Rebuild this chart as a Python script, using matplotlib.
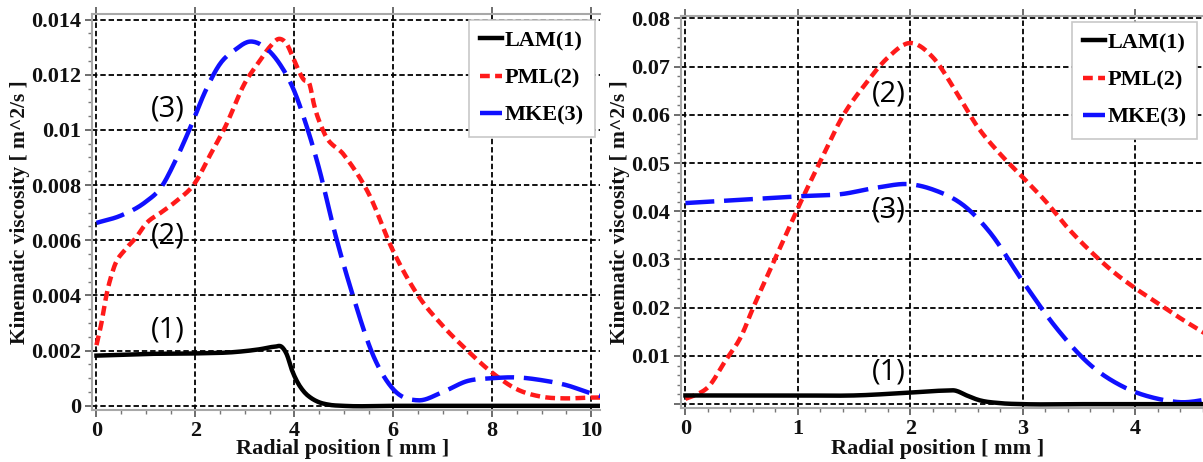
import numpy as np
import matplotlib
matplotlib.use('Agg')
import matplotlib.pyplot as plt
from matplotlib.ticker import MultipleLocator, AutoMinorLocator, FuncFormatter

# ---- left panel data (radial position in mm, viscosity in m^2/s)
x_lam_l = [0, 0.5, 1.0, 2.0, 2.8, 3.3, 3.6, 3.75, 3.85, 3.95, 4.05, 4.2, 4.35, 4.5, 4.7, 5.0, 6, 8, 10.3]
y_lam_l = [0.00182, 0.00185, 0.00188, 0.0019, 0.00195, 0.00205, 0.00214, 0.00213, 0.00185, 0.0013, 0.0009, 0.0005, 0.00027, 0.00013, 0.00004, 0.0, 0.0, 0.0, 0.0]

x_pml_l = [0, 0.1, 0.2, 0.35, 0.6, 0.8, 1.0, 1.3, 1.6, 2.0, 2.3, 2.6, 3.0, 3.3, 3.5, 3.7, 3.85, 4.0, 4.2, 4.3, 4.4, 4.6, 5.0, 5.5, 6.0, 6.5, 7.0, 7.5, 8.0, 8.5, 9.0, 9.5, 10.0, 10.3]
y_pml_l = [0.0022, 0.003, 0.004, 0.005, 0.0057, 0.0061, 0.0066, 0.007, 0.0074, 0.0081, 0.0091, 0.0101, 0.0117, 0.0125, 0.013, 0.0133, 0.0131, 0.0125, 0.0118, 0.0117, 0.0109, 0.0099, 0.0091, 0.0077, 0.0056, 0.004, 0.0029, 0.002, 0.0012, 0.0006, 0.00033, 0.00027, 0.0003, 0.0003]

x_mke_l = [0, 0.5, 1.0, 1.3, 1.6, 1.9, 2.2, 2.5, 2.8, 3.1, 3.4, 3.7, 4.0, 4.2, 4.5, 4.8, 5.2, 5.6, 6.0, 6.5, 7.0, 7.5, 8.0, 8.5, 9.0, 9.5, 10.0, 10.3]
y_mke_l = [0.00663, 0.0069, 0.0074, 0.0079, 0.0089, 0.0101, 0.0114, 0.0124, 0.0129, 0.0132, 0.013, 0.0124, 0.0114, 0.0104, 0.0086, 0.0064, 0.0039, 0.0018, 0.0006, 0.0002, 0.0005, 0.0009, 0.001, 0.00103, 0.00093, 0.00075, 0.00045, 0.0003]

# ---- right panel data
x_lam_r = [0, 0.5, 1.0, 1.5, 2.0, 2.3, 2.4, 2.5, 2.6, 2.8, 3.0, 3.5, 4.0, 4.7]
y_lam_r = [0.0018, 0.0018, 0.0018, 0.0018, 0.0024, 0.0028, 0.0028, 0.0018, 0.0009, 0.0002, 0.0, 0.0, 0.0, 0.0]

x_pml_r = [0, 0.1, 0.2, 0.35, 0.5, 0.6, 0.8, 1.0, 1.2, 1.4, 1.6, 1.8, 2.0, 2.2, 2.4, 2.6, 2.8, 3.0, 3.2, 3.4, 3.6, 3.8, 4.0, 4.2, 4.4, 4.7]
y_pml_r = [0.0011, 0.002, 0.0035, 0.0088, 0.0143, 0.0199, 0.0303, 0.0407, 0.0504, 0.0598, 0.0664, 0.0719, 0.0749, 0.0719, 0.065, 0.0574, 0.0518, 0.047, 0.0421, 0.0365, 0.0317, 0.0275, 0.024, 0.0209, 0.0178, 0.0135]

x_mke_r = [0, 0.5, 1.0, 1.4, 1.7, 2.0, 2.2, 2.5, 2.7, 3.0, 3.3, 3.6, 3.9, 4.2, 4.4, 4.7]
y_mke_r = [0.0417, 0.0424, 0.0431, 0.0436, 0.0449, 0.0456, 0.0445, 0.0407, 0.0358, 0.0254, 0.0157, 0.0081, 0.0035, 0.0011, 0.0004, 0.0012]

labels = ['LAM(1)', 'PML(2)', 'MKE(3)']
serif = 'Liberation Serif'


def smooth(xs, ys, n=400):
    # cubic hermite between the read points, just to get a smooth curve
    xs = np.asarray(xs, float)
    ys = np.asarray(ys, float)
    xx = np.linspace(xs[0], xs[-1], n)
    m = np.gradient(ys, xs)
    out = np.empty_like(xx)
    idx = np.clip(np.searchsorted(xs, xx) - 1, 0, len(xs) - 2)
    for k, (xv, i) in enumerate(zip(xx, idx)):
        h = xs[i + 1] - xs[i]
        t = (xv - xs[i]) / h
        h00 = 2 * t**3 - 3 * t**2 + 1
        h10 = t**3 - 2 * t**2 + t
        h01 = -2 * t**3 + 3 * t**2
        h11 = t**3 - t**2
        out[k] = h00 * ys[i] + h10 * h * m[i] + h01 * ys[i + 1] + h11 * h * m[i + 1]
    return xx, out


def style_axes(ax):
    for s in ax.spines.values():
        s.set_color('#a8a8a8')
        s.set_linewidth(1.5)
    ax.spines['right'].set_visible(False)
    ax.grid(True, which='major', color='black', linestyle=(0, (3, 1.6)), linewidth=1.3)
    ax.tick_params(which='major', direction='out', length=5, width=1.2, color='#555555',
                   labelsize=16, pad=3, top=True)
    ax.tick_params(which='minor', direction='out', length=3, width=1.0, color='#777777', top=False)
    for lab in ax.get_xticklabels() + ax.get_yticklabels():
        lab.set_fontfamily(serif)
        lab.set_fontweight('bold')
        lab.set_color('#111111')


def gfmt(v, pos):
    if abs(v) < 1e-12:
        return '0'
    return ('%g' % v)


fig = plt.figure(figsize=(12.03, 4.62), dpi=100)
axL = fig.add_axes([0.0765, 0.1126, 0.4223, 0.8571])
axR = fig.add_axes([0.5665, 0.1169, 0.4335, 0.8485])

for ax, data in [(axL, [(x_lam_l, y_lam_l), (x_pml_l, y_pml_l), (x_mke_l, y_mke_l)]),
                 (axR, [(x_lam_r, y_lam_r), (x_pml_r, y_pml_r), (x_mke_r, y_mke_r)])]:
    (xa, ya), (xb, yb), (xc, yc) = data
    ax.plot(*smooth(xa, ya), color='black', lw=3.2, label=labels[0], zorder=4)
    ax.plot(*smooth(xb, yb), color='#ff1a1a', lw=3.2, linestyle=(0, (2.2, 1.2)), label=labels[1], zorder=3)
    ax.plot(*smooth(xc, yc), color='#1010ff', lw=3.2, linestyle=(0, (6.5, 2.2)), label=labels[2], zorder=3)

# left axes limits/ticks
axL.set_xlim(-0.09, 10.18)
axL.set_ylim(-0.00015, 0.0142)
axL.xaxis.set_major_locator(MultipleLocator(2))
axL.xaxis.set_minor_locator(AutoMinorLocator(4))
axL.yaxis.set_major_locator(MultipleLocator(0.002))
axL.yaxis.set_minor_locator(AutoMinorLocator(4))
axL.yaxis.set_major_formatter(FuncFormatter(gfmt))

# right axes limits/ticks
axR.set_xlim(-0.035, 4.6)
axR.set_ylim(-0.0008, 0.0805)
axR.xaxis.set_major_locator(MultipleLocator(1))
axR.xaxis.set_minor_locator(AutoMinorLocator(5))
axR.yaxis.set_major_locator(MultipleLocator(0.01))
axR.yaxis.set_minor_locator(AutoMinorLocator(5))
axR.yaxis.set_major_formatter(FuncFormatter(lambda v, p: '' if abs(v) < 1e-12 else '%g' % v))

for ax in (axL, axR):
    style_axes(ax)
    ax.set_xlabel('Radial position [ mm ]', fontfamily=serif, fontweight='bold', fontsize=16, color='#111111')
    ax.set_ylabel('Kinematic viscosity [ m^2/s ]', fontfamily=serif, fontweight='bold', fontsize=15.5, color='#111111')
    leg = ax.legend(loc='upper right', prop={'family': serif, 'weight': 'bold', 'size': 16},
                    fancybox=False, framealpha=1, edgecolor='#c8c8c8', handlelength=1.0,
                    handletextpad=0.1, labelspacing=0.75, borderpad=0.5, borderaxespad=0.25)
    leg.get_frame().set_linewidth(1.2)
    leg.set_zorder(10)

axL.yaxis.set_label_coords(-0.122, 0.5)
axL.xaxis.set_label_coords(0.494, -0.074)
axR.yaxis.set_label_coords(-0.099, 0.5)
axR.xaxis.set_label_coords(0.492, -0.08)

ann = dict(fontsize=21, fontfamily='Open Sans', ha='center', va='center', color='black', zorder=6)
axL.text(1.45, 0.00275, '(1)', **ann)
axL.text(1.45, 0.00615, '(2)', **ann)
axL.text(1.45, 0.01075, '(3)', **ann)
axR.text(1.805, 0.0067, '(1)', **ann)
axR.text(1.805, 0.0643, '(2)', **ann)
axR.text(1.805, 0.0403, '(3)', **ann)

fig.savefig('out.png', dpi=100)
